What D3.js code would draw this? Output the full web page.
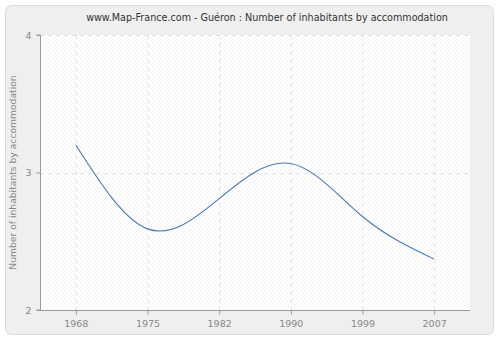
<!DOCTYPE html>
<html><head><meta charset="utf-8">
<script src="https://cdn.jsdelivr.net/npm/d3@7"></script>
<style>body{margin:0;background:#fff}svg{display:block}</style>
</head><body>
<svg id="c" width="500" height="340"></svg>
<script>
const years = ["1968","1975","1982","1990","1999","2007"];
const values = [3.20, 2.59, 2.81, 3.065, 2.68, 2.37];
const yTicks = [2, 3, 4];
const title = "www.Map-France.com - Guéron : Number of inhabitants by accommodation";
const yLabel = "Number of inhabitants by accommodation";

const svg = d3.select("#c");
const font = "DejaVu Sans, Verdana, sans-serif";
const m = {l:40, r:30, t:35, b:30};
const W = 500, H = 340;

const defs = svg.append("defs");
const pat = defs.append("pattern").attr("id","hatch").attr("patternUnits","userSpaceOnUse")
  .attr("width",4).attr("height",4);
pat.append("rect").attr("width",4).attr("height",4).attr("fill","#ffffff");
pat.append("path").attr("d","M-1,1 l2,-2 M0,4 l4,-4 M3,5 l2,-2").attr("stroke","#ececec").attr("stroke-width",0.7);

svg.append("rect").attr("x",5.5).attr("y",5.5).attr("width",488).attr("height",329)
  .attr("rx",6).attr("fill","#efefef").attr("stroke","#dcdcdc");

const x = d3.scalePoint().domain(years).range([m.l, W-m.r]).padding(0.5);
const y = d3.scaleLinear().domain([2,4]).range([H-m.b, m.t]);

svg.append("rect").attr("x",m.l).attr("y",m.t).attr("width",W-m.r-m.l).attr("height",H-m.b-m.t)
  .attr("fill","url(#hatch)");

const grid = svg.append("g").attr("stroke","#e2e2e2").attr("stroke-dasharray","4,4");
years.forEach(d=>grid.append("line").attr("x1",x(d)+0.5).attr("x2",x(d)+0.5).attr("y1",m.t).attr("y2",H-m.b));
yTicks.forEach(d=>grid.append("line").attr("x1",m.l).attr("x2",W-m.r).attr("y1",Math.round(y(d))+0.5).attr("y2",Math.round(y(d))+0.5));

const xa = svg.append("g").attr("transform",`translate(0,${H-m.b+0.5})`)
  .call(d3.axisBottom(x).tickSize(4).tickPadding(6));
const ya = svg.append("g").attr("transform",`translate(${m.l+0.5},0)`)
  .call(d3.axisLeft(y).tickValues(yTicks).tickFormat(d3.format("d")).tickSize(4).tickPadding(5));
[xa,ya].forEach(a=>{
  a.select(".domain").attr("stroke","#999");
  a.selectAll(".tick line").attr("stroke","#999");
  a.selectAll("text").attr("fill","#888").attr("font-family",font).attr("font-size",9.5);
});
ya.select(".domain").attr("d",`M-4,${y(4)}H0V${y(2)}H-4`);
xa.select(".domain").attr("d",`M${m.l},0H${W-m.r}`);

const line = d3.line().x((d,i)=>x(years[i])).y(d=>y(d)).curve(d3.curveNatural);
svg.append("path").datum(values).attr("d",line).attr("fill","none").attr("stroke","#4a7ab5").attr("stroke-width",1.1);

svg.append("text").attr("x",267).attr("y",21).attr("text-anchor","middle")
  .attr("font-family",font).attr("font-size",9.6).attr("fill","#333").text(title);
svg.append("text").attr("transform",`translate(16,${(m.t+H-m.b)/2}) rotate(-90)`).attr("text-anchor","middle")
  .attr("font-family",font).attr("font-size",9.2).attr("fill","#888").text(yLabel);
</script>
</body></html>
